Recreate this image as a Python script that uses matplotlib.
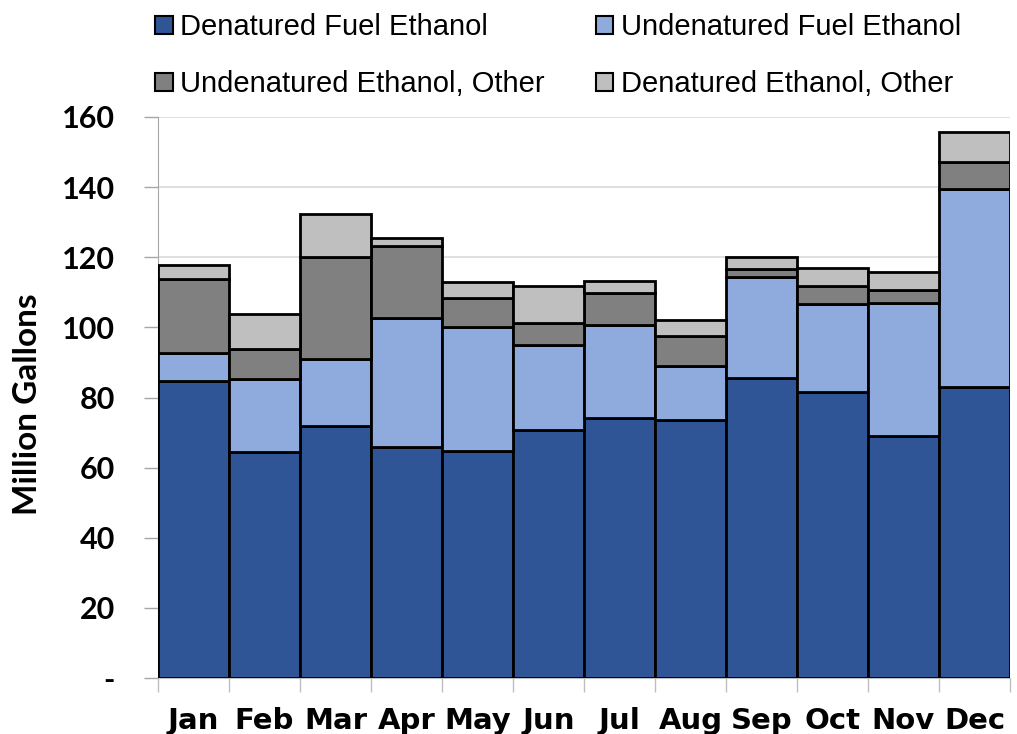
import matplotlib
matplotlib.use("Agg")
import matplotlib.pyplot as plt
import numpy as np

months = ["Jan", "Feb", "Mar", "Apr", "May", "Jun", "Jul", "Aug", "Sep", "Oct", "Nov", "Dec"]
denatured_fuel = [84.7, 64.5, 71.9, 65.9, 64.7, 70.7, 74.2, 73.6, 85.6, 81.6, 69.0, 83.0]
undenatured_fuel = [8.0, 20.8, 19.1, 36.8, 35.4, 24.3, 26.5, 15.4, 28.8, 25.1, 38.0, 56.5]
undenatured_other = [21.1, 8.5, 29.1, 20.5, 8.3, 6.3, 9.1, 8.5, 2.3, 5.1, 3.7, 7.7]
denatured_other = [4.0, 10.0, 12.2, 2.3, 4.5, 10.5, 3.4, 4.6, 3.4, 5.1, 5.1, 8.5]
series_names = ["Denatured Fuel Ethanol", "Undenatured Fuel Ethanol",
                "Undenatured Ethanol, Other", "Denatured Ethanol, Other"]
colors = ["#2F5597", "#8FAADC", "#808080", "#BFBFBF"]
yticks = [0, 20, 40, 60, 80, 100, 120, 140, 160]
ytick_labels = ["-", "20", "40", "60", "80", "100", "120", "140", "160"]

legend_font = "Liberation Sans"
num_font = "Lato"
xlab_font = "DejaVu Sans"

fig = plt.figure(figsize=(10.17, 7.34), dpi=100)
ax = fig.add_axes([158/1017, 56/734, (1010-158)/1017, (678-117)/734])

x = np.arange(len(months))
bottom = np.zeros(len(months))
handles = []
for vals, c, name in zip([denatured_fuel, undenatured_fuel, undenatured_other, denatured_other],
                         colors, series_names):
    b = ax.bar(x, vals, width=1.0, bottom=bottom, color=c, edgecolor="black",
               linewidth=2, label=name, zorder=3)
    handles.append(b)
    bottom += np.array(vals)

ax.set_xlim(-0.5, 11.5)
ax.set_ylim(0, 160)
ax.set_yticks(yticks)
ax.set_yticklabels(ytick_labels, fontfamily=num_font, fontweight="bold", fontsize=22)
ax.set_xticks(x)
ax.set_xticklabels(months, fontfamily=xlab_font, fontweight="bold", fontsize=21)
ax.set_xticks(np.arange(-0.5, 12, 1), minor=True)
ax.tick_params(axis="x", which="major", length=0, pad=21)
ax.tick_params(axis="x", which="minor", length=10, color="#BFBFBF", width=1)
ax.tick_params(axis="y", which="major", length=10, color="#A6A6A6", width=1, pad=21)
ax.grid(axis="y", color="#D9D9D9", linewidth=1.2, zorder=0)
for s in ["top", "right"]:
    ax.spines[s].set_visible(False)
ax.spines["left"].set_color("#A6A6A6")
ax.spines["bottom"].set_color("#BFBFBF")
fig.text(28/1017, 1 - 404/734, "Million Gallons", rotation=90, ha="center", va="center",
         fontfamily=num_font, fontweight="bold", fontsize=24)

order = [0, 2, 1, 3]
leg = fig.legend(handles=[handles[i] for i in order], labels=[series_names[i] for i in order],
                 loc="upper left", bbox_to_anchor=(135/1017, 1.01), ncol=2, frameon=False,
                 prop={"family": legend_font, "size": 21},
                 handlelength=0.6, handleheight=0.6, handletextpad=0.25,
                 columnspacing=1.75, labelspacing=1.0, borderaxespad=0.3)
for h in leg.legend_handles:
    h.set_linewidth(1.5)

fig.savefig("out.png", dpi=100)
